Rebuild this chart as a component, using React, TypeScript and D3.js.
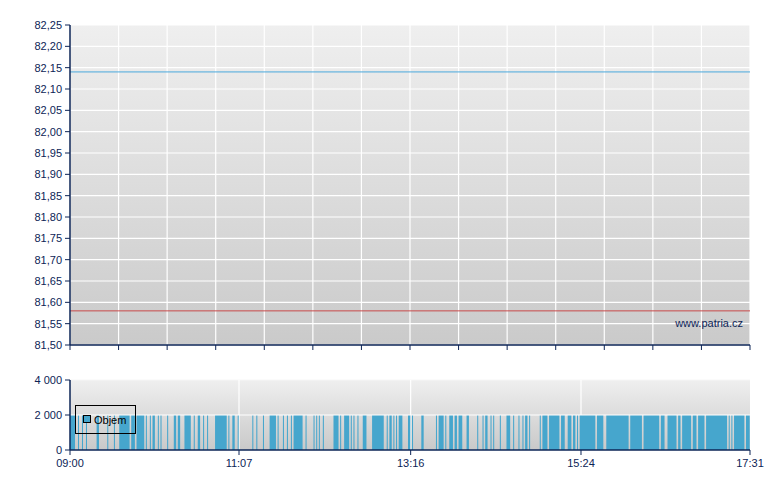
import React from "react";
import * as d3 from "d3";

// ---- data ----
const priceTicks = [81.5, 81.55, 81.6, 81.65, 81.7, 81.75, 81.8, 81.85, 81.9, 81.95, 82.0, 82.05, 82.1, 82.15, 82.2, 82.25];
const priceDomain: [number, number] = [81.5, 82.25];
const bluePriceLevel = 82.14;
const redPriceLevel = 81.58;

const sessionMinutes = 511; // 09:00 -> 17:31
const timeTickMinutes = [0, 127, 256, 384, 511];
const timeTickLabels = ["09:00", "11:07", "13:16", "15:24", "17:31"];
const mainGridDivisions = 14;

const volumeTicks = [0, 2000, 4000];
const volumeTickLabels = ["0", "2 000", "4 000"];

// [start minute, end minute, volume]
const volumeBars: [number, number, number][] = [
  [0, 4, 2000], [6, 7, 2000], [9, 10, 2000], [12, 13, 2000], [20, 22, 2000], [28, 29, 2000], [33, 34, 2000],
  [37, 45, 2000], [46, 49, 2000], [50, 56, 2000], [57, 58, 2000], [60, 61, 2000], [62, 64, 2000], [66, 67, 2000],
  [68, 69, 2000], [73, 74, 2000], [78, 80, 2000], [81, 83, 2000],
  [86, 91, 2000], [93, 94, 2000], [96, 98, 2000], [100, 101, 2000], [103, 104, 2000], [109, 118, 2000],
  [119, 120, 2000], [122, 124, 2000], [126, 127, 2000],
  [137, 138, 2000], [140, 141, 2000], [145, 146, 2000], [150, 155, 2000], [156, 157, 2000], [160, 161, 2000],
  [163, 164, 2000], [166, 167, 2000], [168, 175, 2000],
  [177, 178, 2000], [183, 184, 2000], [185, 186, 2000], [187, 188, 2000], [190, 191, 2000], [198, 202, 2000],
  [203, 204, 2000], [206, 210, 2000], [211, 212, 2000], [213, 214, 2000], [216, 217, 2000], [220, 223, 2000],
  [227, 236, 2000], [238, 239, 2000], [240, 242, 2000], [243, 244, 2000], [245, 246, 2000], [247, 250, 2000],
  [254, 256, 2000],
  [257, 258, 2000], [264, 266, 2000], [275, 276, 2000], [277, 281, 2000], [282, 283, 2000], [285, 288, 2000],
  [289, 291, 2000], [292, 295, 2000], [298, 300, 2000], [306, 307, 2000], [310, 311, 2000], [312, 314, 2000],
  [316, 317, 2000], [318, 319, 2000], [323, 324, 2000], [328, 331, 2000], [333, 334, 2000], [337, 338, 2000],
  [340, 341, 2000], [342, 344, 2000],
  [345, 346, 2000], [353, 354, 2000], [355, 359, 2000], [360, 368, 2000], [369, 372, 2000], [374, 377, 2000],
  [378, 380, 2000], [381, 382, 2000], [383, 395, 2000], [396, 401, 2000], [403, 420, 2000], [421, 430, 2000],
  [431, 443, 2000], [444, 447, 2000], [449, 456, 2000], [457, 459, 2000], [460, 467, 2000], [468, 471, 2000],
  [472, 477, 2000], [478, 494, 2000], [495, 496, 2000], [497, 498, 2000], [499, 507, 2000], [508, 511, 2000],
];

const legendLabel = "Objem";
const watermark = "www.patria.cz";

// ---- layout ----
const W = 780;
const H = 490;
const left = 70;
const right = 750;
const mainTop = 25;
const mainBottom = 345;
const volTop = 380;
const volBottom = 450;

const axisColor = "#0c2456";
const font = "'Liberation Sans', Arial, sans-serif";
const barColor = "#46a6cd";

const fmtPrice = (v: number) => v.toFixed(2).replace(".", ",");

export default function App() {
  const x = d3.scaleLinear().domain([0, sessionMinutes]).range([left, right]);
  const y = d3.scaleLinear().domain(priceDomain).range([mainBottom, mainTop]);
  const yv = d3.scaleLinear().domain([0, 4000]).range([volBottom, volTop]);

  const mainGridX = d3.range(mainGridDivisions + 1).map((i) => left + ((right - left) * i) / mainGridDivisions);

  return (
    <svg
      width={W}
      height={H}
      style={{ position: "absolute", left: 0, top: 0, background: "#fff" }}
      fontFamily={font}
    >
      <defs>
        <linearGradient id="gMain" x1="0" y1="0" x2="0" y2="1">
          <stop offset="0" stopColor="#efefef" />
          <stop offset="1" stopColor="#cacaca" />
        </linearGradient>
        <linearGradient id="gVol" x1="0" y1="0" x2="0" y2="1">
          <stop offset="0" stopColor="#efefef" />
          <stop offset="1" stopColor="#c9c9c9" />
        </linearGradient>
      </defs>

      {/* main panel */}
      <rect x={left} y={mainTop} width={right - left} height={mainBottom - mainTop} fill="url(#gMain)" />
      {priceTicks.map((t) => (
        <line key={"hg" + t} x1={left} x2={right} y1={y(t)} y2={y(t)} stroke="#fff" strokeWidth={1.2} />
      ))}
      {mainGridX.map((gx, i) => (
        <line key={"vg" + i} x1={gx} x2={gx} y1={mainTop} y2={mainBottom} stroke="#fff" strokeWidth={1.2} />
      ))}
      <line x1={left} x2={right} y1={y(bluePriceLevel)} y2={y(bluePriceLevel)} stroke="#4aa9dc" strokeWidth={1} />
      <line x1={left} x2={right} y1={y(redPriceLevel)} y2={y(redPriceLevel)} stroke="#c84a4a" strokeWidth={1} />
      <text x={743} y={327} fontSize={11} fill={axisColor} textAnchor="end">
        {watermark}
      </text>

      {/* main axes */}
      <line x1={left} x2={left} y1={mainTop} y2={mainBottom} stroke={axisColor} strokeWidth={1.5} />
      <line x1={left} x2={right} y1={mainBottom} y2={mainBottom} stroke={axisColor} strokeWidth={1.5} />
      {priceTicks.map((t) => (
        <g key={"yt" + t}>
          <line x1={left - 5} x2={left} y1={y(t)} y2={y(t)} stroke={axisColor} strokeWidth={1} />
          <text x={62} y={y(t) + 4} fontSize={11} fill={axisColor} textAnchor="end">
            {fmtPrice(t)}
          </text>
        </g>
      ))}
      {mainGridX.map((gx, i) => (
        <line key={"xt" + i} x1={gx} x2={gx} y1={mainBottom} y2={mainBottom + 5} stroke={axisColor} strokeWidth={1} />
      ))}

      {/* volume panel */}
      <rect x={left} y={volTop} width={right - left} height={volBottom - volTop} fill="url(#gVol)" />
      <line x1={left} x2={right} y1={volTop} y2={volTop} stroke="#f6f6f6" strokeWidth={1} />
      {timeTickMinutes.slice(1, -1).map((m) => (
        <line key={"vvg" + m} x1={x(m)} x2={x(m)} y1={volTop} y2={volBottom} stroke="#fff" strokeWidth={1.2} />
      ))}
      {volumeBars.map(([s, e, v], i) => (
        <rect
          key={"vb" + i}
          x={x(s)}
          y={yv(v)}
          width={Math.max(1, x(e) - x(s) - 0.3)}
          height={volBottom - yv(v)}
          fill={barColor}
        />
      ))}
      <line x1={left} x2={right} y1={yv(2000)} y2={yv(2000)} stroke="#fff" strokeWidth={1.2} />

      {/* legend */}
      <rect x={75.5} y={405.5} width={60} height={28} fill="none" stroke="#000" strokeWidth={1} />
      <rect x={83.5} y={415.5} width={7} height={7} fill={barColor} stroke="#000" strokeWidth={1} />
      <text x={94} y={424} fontSize={11} fill="#000">
        {legendLabel}
      </text>

      {/* volume axes */}
      <line x1={left} x2={left} y1={volTop} y2={volBottom} stroke={axisColor} strokeWidth={1.5} />
      <line x1={left} x2={right} y1={volBottom} y2={volBottom} stroke={axisColor} strokeWidth={1.5} />
      {volumeTicks.map((t, i) => (
        <g key={"vyt" + t}>
          <line x1={left - 5} x2={left} y1={yv(t)} y2={yv(t)} stroke={axisColor} strokeWidth={1} />
          <text x={62} y={yv(t) + 4} fontSize={11} fill={axisColor} textAnchor="end">
            {volumeTickLabels[i]}
          </text>
        </g>
      ))}
      {timeTickMinutes.map((m, i) => (
        <g key={"vxt" + m}>
          <line x1={x(m)} x2={x(m)} y1={volBottom} y2={volBottom + 5} stroke={axisColor} strokeWidth={1} />
          <text x={x(m)} y={467} fontSize={11} fill={axisColor} textAnchor="middle">
            {timeTickLabels[i]}
          </text>
        </g>
      ))}
    </svg>
  );
}
